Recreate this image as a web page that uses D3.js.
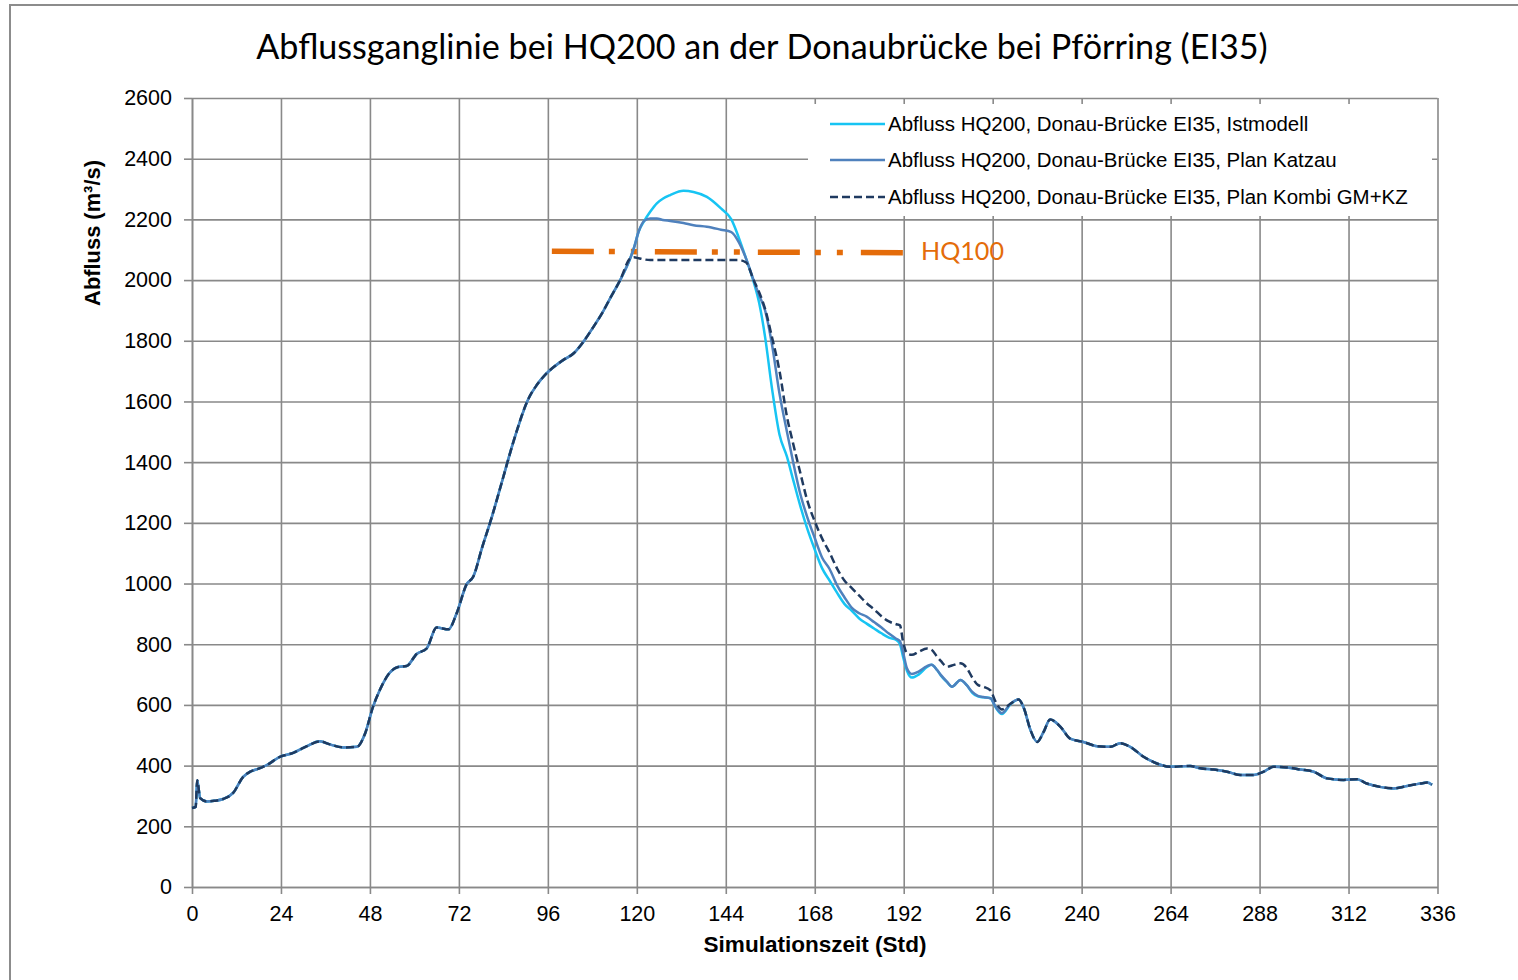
<!DOCTYPE html>
<html><head><meta charset="utf-8">
<script src="https://cdn.jsdelivr.net/npm/d3@7"></script>
<style>body{margin:0;background:#fff;} svg{display:block;}</style>
</head><body>
<svg id="c" width="1518" height="980"></svg>
<script>
// ---------- data ----------
const titleText = "Abflussganglinie bei HQ200 an der Donaubrücke bei Pförring (EI35)";
const xTitle = "Simulationszeit (Std)";
const yTitle = "Abfluss (m³/s)";
const xTicks = [0, 24, 48, 72, 96, 120, 144, 168, 192, 216, 240, 264, 288, 312, 336];
const yTicks = [0, 200, 400, 600, 800, 1000, 1200, 1400, 1600, 1800, 2000, 2200, 2400, 2600];
const seriesNames = [
  "Abfluss HQ200, Donau-Brücke EI35, Istmodell",
  "Abfluss HQ200, Donau-Brücke EI35, Plan Katzau",
  "Abfluss HQ200, Donau-Brücke EI35, Plan Kombi GM+KZ"
];
// shared rising limb (all three series identical)
const riseHours = [0, 1.0, 1.4, 2.2, 4.0, 6.0, 8.4, 11.1, 13.8, 15.7, 18, 20.2, 23.7, 27.3, 29.5, 31, 34.5, 37.2, 40.8, 44.5,
  46.7, 48.8, 50.7, 53.4, 55.6, 57.9, 60.6, 63.3, 66.0, 69.2, 71.4, 74.1, 75.9, 78.2, 80.9, 84.0, 86.7, 90.8, 93.0, 95.7,
  100.2, 102.9, 105.6, 108.3, 110.6, 112.8, 115.5, 118.2];
const riseValues = [260, 264, 352, 293, 282, 284, 290, 310, 363, 380, 390, 402, 429, 442, 455, 464, 480, 470, 460, 462,
  506, 593, 650, 707, 725, 728, 768, 786, 855, 849, 902, 998, 1023, 1116, 1220, 1352, 1467, 1610, 1654, 1693,
  1737, 1758, 1797, 1846, 1890, 1940, 2000, 2071];
// peak / recession where the three variants differ
const peakHours = [119.2, 120.5, 122, 123.6, 125.4, 127, 129, 132.6, 135.3, 138.9, 142.7, 145.5, 147.5, 149.5, 151.5, 153,
  154.6, 156.5, 158.5, 160.5, 162, 164, 166, 168, 170, 172, 174, 176, 178, 180, 182, 184, 186, 188, 190, 191, 191.8,
  192.9, 194.2, 196, 198.3, 199.5, 201, 202, 203.7, 205, 207.3, 209, 210.5, 212, 213.5, 215.4, 216.8, 218.5, 220.8];
const istPeak = [2105, 2160, 2195, 2225, 2253, 2268, 2280, 2294, 2290, 2274, 2236, 2200, 2140, 2070, 1995, 1925,
  1813, 1640, 1490, 1418, 1350, 1260, 1180, 1112, 1050, 1010, 970, 933, 910, 885, 868, 852, 836, 822, 814, 800, 760,
  712, 690, 700, 725, 732, 715, 697, 675, 660, 682, 665, 640, 628, 625, 622, 592, 570, 602];
const katzauPeak = [2105, 2160, 2195, 2203, 2203, 2198, 2195, 2188, 2181, 2176, 2166, 2158, 2125, 2070, 2000, 1950,
  1900, 1785, 1625, 1500, 1410, 1300, 1218, 1150, 1085, 1048, 995, 955, 920, 902, 891, 873, 855, 835, 818, 810, 775,
  720, 702, 710, 728, 732, 715, 699, 676, 660, 682, 665, 643, 630, 626, 622, 594, 573, 604];
const kombiPeak = [2075, 2072, 2068, 2066, 2066, 2066, 2066, 2066, 2066, 2066, 2066, 2066, 2066, 2058, 2000, 1960,
  1905, 1810, 1700, 1550, 1470, 1370, 1273, 1205, 1148, 1102, 1050, 1010, 985, 960, 935, 915, 892, 875, 866, 862, 810,
  770, 765, 775, 786, 782, 759, 745, 726, 730, 737, 722, 690, 666, 660, 648, 610, 585, 604];
// shared tail
const tailHours = [223.0, 224.4, 226.2, 228.0, 229.7, 231.5, 234.3, 236.9, 240.5, 244.2, 247.8, 250.4, 253.1, 256.7,
  260.3, 263.9, 269.3, 272.0, 275.6, 279.2, 282.8, 286.4, 289.1, 291.8, 295.4, 299.0, 302.6, 306.2, 310.7, 314.3,
  316.9, 320.5, 324.2, 327.8, 331.4, 333.2, 334.5];
const tailValues = [618, 590, 517, 478, 510, 552, 528, 489, 478, 464, 462, 474, 462, 429,
  407, 396, 399, 391, 387, 380, 369, 369, 380, 396, 394, 387, 380, 358, 353, 355,
  341, 330, 325, 333, 341, 344, 337];
// HQ100 reference level
const hq100Hours = [96, 192];
const hq100Values = [2095, 2090];
const hq100Label = "HQ100";

// ---------- assemble ----------
const hoursAll = [...riseHours, ...peakHours, ...tailHours];
const mk = peak => hoursAll.map((h, i) => [h, [...riseValues, ...peak, ...tailValues][i]]);
const series = [
  {name: seriesNames[0], data: mk(istPeak), color: "#17C4F3", width: 2.5, dash: null},
  {name: seriesNames[1], data: mk(katzauPeak), color: "#4F81BD", width: 2.5, dash: null},
  {name: seriesNames[2], data: mk(kombiPeak), color: "#1F3A60", width: 2.5, dash: "8,4"}
];

// ---------- drawing ----------
const svg = d3.select("#c");
const L = 192, R = 1437.5, T = 98, B = 887;
const x = d3.scaleLinear().domain([0, 336]).range([L, R]);
const y = d3.scaleLinear().domain([0, 2600]).range([B, T]);
const gridColor = "#898989";

svg.append("rect").attr("x", 0).attr("y", 0).attr("width", 1518).attr("height", 980).attr("fill", "#fff");
svg.append("rect").attr("x", 10).attr("y", 5).attr("width", 1600).attr("height", 1100)
  .attr("fill", "none").attr("stroke", "#8c8c8c").attr("stroke-width", 2);

function fit(t, target) {
  const w = t.node().getComputedTextLength();
  const fs = parseFloat(t.attr("font-size"));
  t.attr("font-size", fs * target / w);
  return fs * target / w;
}

// title
const title = svg.append("text").attr("x", 762).attr("y", 59).attr("text-anchor", "middle")
  .attr("font-family", "Lato, 'Open Sans', sans-serif").attr("font-size", 34).attr("fill", "#000").text(titleText);
fit(title, 1012);

// grid
svg.append("g").attr("transform", `translate(0,${B})`)
  .call(d3.axisBottom(x).tickValues(xTicks).tickSize(-(B - T)).tickSizeOuter(0).tickFormat(""))
  .call(g => g.select(".domain").remove())
  .call(g => g.selectAll("line").attr("stroke", gridColor).attr("stroke-width", 1.6));
svg.append("g").attr("transform", `translate(${L},0)`)
  .call(d3.axisLeft(y).tickValues(yTicks).tickSize(-(R - L)).tickSizeOuter(0).tickFormat(""))
  .call(g => g.select(".domain").remove())
  .call(g => g.selectAll("line").attr("stroke", gridColor).attr("stroke-width", 1.6));

// axes with ticks + labels
const tickFont = "'Liberation Sans', Arial, sans-serif";
svg.append("g").attr("transform", `translate(0,${B})`)
  .call(d3.axisBottom(x).tickValues(xTicks).tickSize(7).tickSizeOuter(0).tickPadding(12).tickFormat(d3.format("d")))
  .call(g => g.select(".domain").attr("stroke", gridColor).attr("stroke-width", 1.6))
  .call(g => g.selectAll("line").attr("stroke", gridColor).attr("stroke-width", 1.6))
  .call(g => g.selectAll("text").attr("font-family", tickFont).attr("font-size", 21.5).attr("fill", "#000"));
svg.append("g").attr("transform", `translate(${L},0)`)
  .call(d3.axisLeft(y).tickValues(yTicks).tickSize(8).tickSizeOuter(0).tickPadding(12).tickFormat(d3.format("d")))
  .call(g => g.select(".domain").attr("stroke", gridColor).attr("stroke-width", 1.6))
  .call(g => g.selectAll("line").attr("stroke", gridColor).attr("stroke-width", 1.6))
  .call(g => g.selectAll("text").attr("font-family", tickFont).attr("font-size", 21.5).attr("fill", "#000"));

// axis titles
const xt = svg.append("text").attr("x", 815).attr("y", 952).attr("text-anchor", "middle")
  .attr("font-family", tickFont).attr("font-weight", "bold").attr("font-size", 20).text(xTitle);
fit(xt, 223);
const yt = svg.append("text").attr("transform", "translate(100,233) rotate(-90)").attr("text-anchor", "middle")
  .attr("font-family", tickFont).attr("font-weight", "bold").attr("font-size", 20).text(yTitle);
fit(yt, 146);

// HQ100 line
const hqData = hq100Hours.map((h, i) => [h, hq100Values[i]]);
svg.append("path").datum(hqData)
  .attr("d", d3.line().x(d => x(d[0])).y(d => y(d[1])))
  .attr("fill", "none").attr("stroke", "#E46C0A").attr("stroke-width", 5.5)
  .attr("stroke-dasharray", "42,15,6,16,6,18").attr("stroke-dashoffset", -4);
const hqT = svg.append("text").attr("x", 921).attr("y", 260).attr("font-family", "Lato, 'Open Sans', sans-serif")
  .attr("font-size", 26).attr("fill", "#E46C0A").text(hq100Label);
fit(hqT, 83);

// legend box (covers grid)
svg.append("rect").attr("x", 808).attr("y", 104).attr("width", 624).attr("height", 112).attr("fill", "#fff");

// series lines
const line = d3.line().x(d => x(d[0])).y(d => y(d[1])).curve(d3.curveMonotoneX);
series.forEach(s => {
  svg.append("path").datum(s.data).attr("d", line)
    .attr("fill", "none").attr("stroke", s.color).attr("stroke-width", s.width)
    .attr("stroke-linejoin", "round")
    .attr("stroke-dasharray", s.dash);
});

// legend
const legY = [124, 160, 197];
const legTexts = [];
series.forEach((s, i) => {
  svg.append("line").attr("x1", 830).attr("x2", 885).attr("y1", legY[i]).attr("y2", legY[i])
    .attr("stroke", s.color).attr("stroke-width", s.width).attr("stroke-dasharray", s.dash);
  legTexts.push(svg.append("text").attr("x", 888).attr("y", legY[i]).attr("dy", "0.35em")
    .attr("font-family", tickFont).attr("font-size", 19).attr("fill", "#000").text(s.name));
});
const lfs = fit(legTexts[2], 520);
legTexts.forEach(t => t.attr("font-size", lfs));
</script>
</body></html>
